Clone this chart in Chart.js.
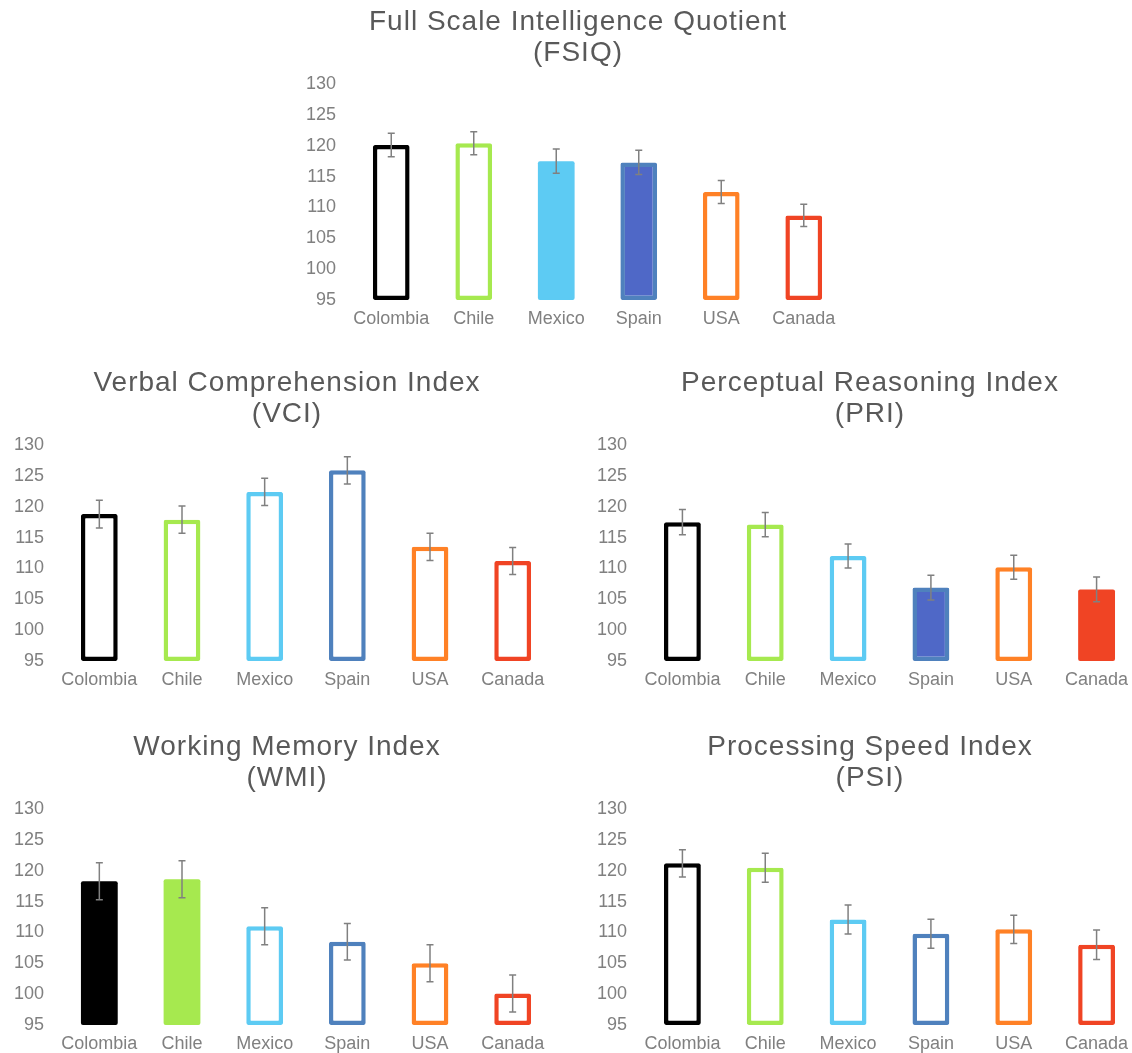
<!DOCTYPE html>
<html>
<head>
<meta charset="utf-8">
<script src="https://cdn.jsdelivr.net/npm/chart.js@4.4.0/dist/chart.umd.min.js"></script>
<style>
    html, body { margin: 0; padding: 0; background: #fff; overflow: hidden; width: 1132px; height: 1053px; }
    canvas { position: absolute; }
</style>
</head>
<body>
<canvas id="fsiq" width="576" height="340" style="left:290px;top:0px"></canvas>
<canvas id="vci" width="574" height="340" style="left:0px;top:361px"></canvas>
<canvas id="pri" width="560" height="340" style="left:590px;top:361px"></canvas>
<canvas id="wmi" width="574" height="340" style="left:0px;top:725px"></canvas>
<canvas id="psi" width="560" height="340" style="left:590px;top:725px"></canvas>

<script>
// DATA
const categories = ['Colombia', 'Chile', 'Mexico', 'Spain', 'USA', 'Canada'];

const fsiqMeans  = [120.1, 120.4, 117.5, 117.3, 112.5, 108.7];
const fsiqErrors = [1.9, 1.85, 1.95, 1.95, 1.85, 1.8];

const vciMeans  = [118.8, 117.9, 122.4, 125.9, 113.5, 111.2];
const vciErrors = [2.25, 2.2, 2.2, 2.2, 2.2, 2.2];

const priMeans  = [117.5, 117.1, 112.0, 106.9, 110.2, 106.6];
const priErrors = [2.05, 1.95, 1.95, 2.0, 1.95, 2.0];

const wmiMeans  = [118.3, 118.6, 111.0, 108.5, 105.0, 100.1];
const wmiErrors = [3.0, 3.0, 3.0, 2.95, 3.0, 3.0];

const psiMeans  = [121.2, 120.5, 112.1, 109.8, 110.5, 108.0];
const psiErrors = [2.2, 2.35, 2.35, 2.35, 2.3, 2.4];

const yMin = 95;
const yMax = 130;
const yStep = 5;

// STYLES
const borderColors = ['#000000', '#a6e94f', '#5dcbf3', '#4f81bd', '#ff8126', '#f04424'];
const fillColors   = ['#000000', '#a6e94f', '#5dcbf3', '#4f68c7', '#ff8126', '#f04424'];
const fontFamily = 'Liberation Sans, Arial, sans-serif';

// TITLE SPACING + ERROR BARS
const errorBars = {
    id: 'errorBars',
    beforeDraw(chart) {
        // only the title is drawn before the datasets
        chart.ctx.letterSpacing = '1px';
    },
    beforeDatasetsDraw(chart) {
        chart.ctx.letterSpacing = '0px';
    },
    afterDatasetsDraw(chart) {
        const ctx = chart.ctx;
        const y = chart.scales.y;
        const ds = chart.data.datasets[0];
        const meta = chart.getDatasetMeta(0);

        ctx.save();
        ctx.strokeStyle = '#808080';
        ctx.lineWidth = 1.5;

        meta.data.forEach((bar, i) => {
            const top = y.getPixelForValue(ds.data[i] + ds.errors[i]);
            const bot = y.getPixelForValue(ds.data[i] - ds.errors[i]);
            const x = bar.x;
            ctx.beginPath();
            ctx.moveTo(x, top);
            ctx.lineTo(x, bot);
            ctx.moveTo(x - 3.5, top);
            ctx.lineTo(x + 3.5, top);
            ctx.moveTo(x - 3.5, bot);
            ctx.lineTo(x + 3.5, bot);
            ctx.stroke();
        });

        ctx.restore();
    }
};

function makeChart(id, title, means, errors, filled, yWidth, padRight) {

    const ctx = document.getElementById(id);

    return new Chart(ctx, {
        type: 'bar',
        data: {
            labels: categories,
            datasets: [{
                data: means,
                errors: errors,
                base: yMin,
                borderColor: borderColors,
                backgroundColor: filled.map((f, i) => f ? fillColors[i] : '#ffffff'),
                borderWidth: filled.map((f, i) => (f && fillColors[i] === borderColors[i]) ? 0 : 4.5),
                borderSkipped: false,
                borderRadius: 2,
                barPercentage: 0.445,
                categoryPercentage: 1.0
            }]
        },
        options: {
            responsive: false,
            animation: false,
            plugins: {
                legend: { display: false },
                tooltip: { enabled: false },
                title: {
                    display: true,
                    text: title,
                    color: '#595959',
                    font: { family: fontFamily, size: 28, weight: 'normal', lineHeight: '31px' },
                    padding: { top: 7, bottom: 15 }
                }
            },
            scales: {
                x: {
                    grid: { display: false, drawTicks: false },
                    border: { display: false },
                    ticks: {
                        z: 1,
                        color: '#808080',
                        padding: 8,
                        maxRotation: 0,
                        autoSkip: false,
                        font: { family: fontFamily, size: 18 }
                    },
                    afterFit: (scale) => { scale.height = 40; }
                },
                y: {
                    min: yMin,
                    max: yMax,
                    grid: { display: false, drawTicks: false },
                    border: { display: false },
                    ticks: {
                        z: 1,
                        stepSize: yStep,
                        color: '#808080',
                        padding: 14,
                        font: { family: fontFamily, size: 18 }
                    },
                    afterFit: (scale) => { scale.width = yWidth; }
                },
                // empty right-hand spacer so the title stays centred on the canvas
                spacer: {
                    type: 'linear',
                    position: 'right',
                    grid: { display: false, drawTicks: false },
                    border: { display: false },
                    ticks: { display: false },
                    afterFit: (scale) => { scale.width = padRight; }
                }
            }
        },
        plugins: [errorBars]
    });
}

makeChart('fsiq', ['Full Scale Intelligence Quotient', '(FSIQ)'], fsiqMeans, fsiqErrors,
    [false, false, true, true, false, false], 60, 21);

makeChart('vci', ['Verbal Comprehension Index', '(VCI)'], vciMeans, vciErrors,
    [false, false, false, false, false, false], 58, 20);

makeChart('pri', ['Perceptual Reasoning Index', '(PRI)'], priMeans, priErrors,
    [false, false, false, true, false, true], 51, 12);

makeChart('wmi', ['Working Memory Index', '(WMI)'], wmiMeans, wmiErrors,
    [true, true, false, false, false, false], 58, 20);

makeChart('psi', ['Processing Speed Index', '(PSI)'], psiMeans, psiErrors,
    [false, false, false, false, false, false], 51, 12);
</script>
</body>
</html>
